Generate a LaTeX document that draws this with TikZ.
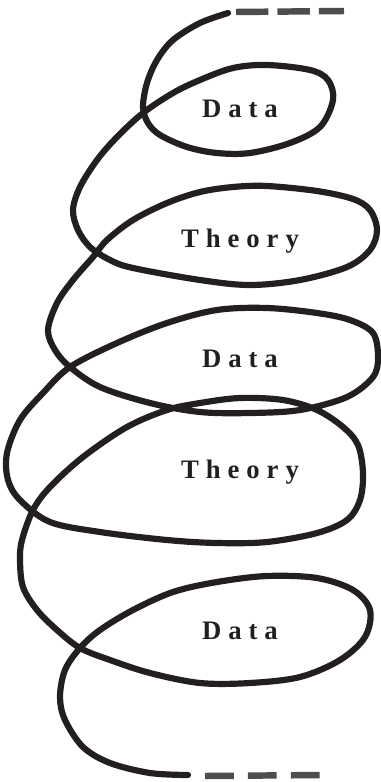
\documentclass[tikz,border=0pt]{standalone}
\usepackage{fontspec}
\newfontfamily\lblfont[LetterSpace=26]{Liberation Serif}
\definecolor{ink}{HTML}{231F20}
\definecolor{dashgray}{HTML}{4D4D4D}
\begin{document}
\begin{tikzpicture}[
    x=0.025cm, y=-0.025cm,
    spiral/.style={draw=ink, line width=4.4pt, line cap=round, line join=round},
    tail/.style={draw=dashgray, line width=4.6pt},
    lbl/.style={font=\lblfont\bfseries\fontsize{19}{21}\selectfont, text=ink, anchor=base, inner sep=0pt},
  ]
    \useasboundingbox (0,0) rectangle (381,782);

    % labels
    \foreach \name/\txt/\y in {data1/Data/117, theory1/Theory/247, data2/Data/367, theory2/Theory/478, data3/Data/639} {
      \node[lbl] (\name) at (240,\y) {\txt};
    }

    % spiral
    \coordinate (topend) at (228,13);
    \coordinate (botend) at (190,775);
    \draw[spiral] plot[smooth, tension=0.55] coordinates {
      (228,13) (200,23) (173,40) (157,60) (147,83) (143,107) (148,123) (160,135)
      (187,147) (217,153) (250,153) (290,143) (320,127) (333,100) (328,80) (310,70)
      (267,65) (233,68) (200,80) (173,93) (143,113) (117,137) (97,160) (80,187)
      (73,210) (78,230) (90,247) (110,260) (133,268) (200,280) (250,285) (300,280)
      (347,267) (370,250) (377,230) (370,210) (353,199) (317,191) (267,186) (233,187)
      (200,192) (167,203) (133,220) (107,240) (93,257) (73,280) (57,303) (48,330)
      (55,350) (70,367) (100,387) (150,403) (200,412) (250,413) (300,410) (347,397)
      (373,377) (378,357) (373,333) (350,320) (317,313) (267,308) (217,310) (167,323)
      (117,343) (70,367) (43,393) (20,420) (7,453) (8,480) (20,500) (50,522)
      (100,532) (167,540) (217,543) (267,542) (317,533) (347,520) (360,500) (363,473)
      (358,445) (343,427) (317,410) (283,400) (240,398) (200,403) (167,410) (127,427)
      (83,457) (50,487) (33,510) (22,540) (20,560) (23,587) (37,610) (57,630)
      (80,648) (110,660) (150,673) (200,683) (250,683) (300,677) (340,660) (365,637)
      (370,610) (353,590) (317,578) (267,576) (217,582) (173,592) (133,610) (100,630)
      (80,648) (65,670) (60,697) (65,720) (83,747) (110,763) (150,773) (188,775)
    };

    % loose ends
    \coordinate (topfree) at (344,11);
    \coordinate (botfree) at (322,775);
    \draw[tail, dash pattern=on 23pt off 6.5pt] (236,12) -- (topfree);
    \draw[tail, dash pattern=on 20.5pt off 10pt] (205,776) -- (botfree);
  \end{tikzpicture}
\end{document}
